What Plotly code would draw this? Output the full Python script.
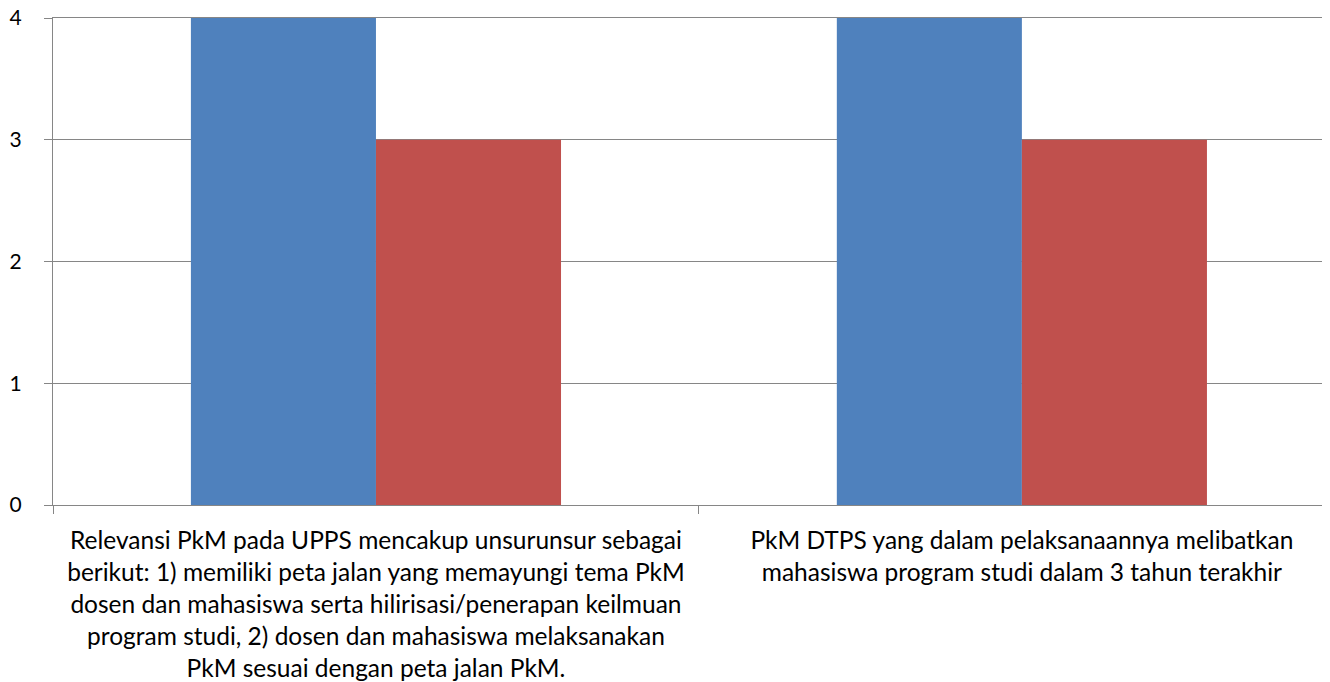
import plotly.graph_objects as go

categories = [
    "Relevansi PkM pada UPPS mencakup unsurunsur sebagai<br>"
    "berikut: 1) memiliki peta jalan yang memayungi tema PkM<br>"
    "dosen dan mahasiswa serta hilirisasi/penerapan keilmuan<br>"
    "program studi, 2) dosen dan mahasiswa melaksanakan<br>"
    "PkM sesuai dengan peta jalan PkM.",
    "PkM DTPS yang dalam pelaksanaannya melibatkan<br>"
    "mahasiswa program studi dalam 3 tahun terakhir",
]
series_a = [4, 4]
series_b = [3, 3]
y_ticks = [0, 1, 2, 3, 4]

grid = "#868686"
font_family = "Lato, Calibri, Carlito, 'Open Sans', sans-serif"

fig = go.Figure()
fig.add_trace(go.Bar(x=categories, y=series_a, name="Series 1",
                     marker=dict(color="#4F81BD", line=dict(width=0))))
fig.add_trace(go.Bar(x=categories, y=series_b, name="Series 2",
                     marker=dict(color="#C0504D", line=dict(width=0))))

# page body adds 8px offset, so margins are shifted to compensate
fig.update_layout(
    width=1330, height=682,
    margin=dict(l=45, r=8, t=10, b=185),
    paper_bgcolor="white", plot_bgcolor="white",
    barmode="group", bargap=0.427, bargroupgap=0,
    showlegend=False,
    font=dict(family=font_family, size=21, color="#000000"),
)

fig.update_xaxes(
    type="category",
    range=[-0.5, 1.477],
    automargin=False,
    showline=True, linecolor=grid, linewidth=1, mirror=True,  # top line = gridline at 4
    ticks="outside", tickson="boundaries", ticklen=8, tickcolor=grid,
    showgrid=False,
    tickfont=dict(size=24.5),
    ticklabelstandoff=14,
)
fig.update_yaxes(
    range=[0, 4],
    tickvals=y_ticks,
    automargin=False,
    showline=True, linecolor=grid, linewidth=1,
    showgrid=True, gridcolor=grid, gridwidth=1,
    zeroline=False,
    ticks="outside", ticklen=8, tickcolor=grid,
    tickfont=dict(size=21),
    ticklabelstandoff=18,
    ticklabeloverflow="allow",
)

fig.write_html("out.html")
